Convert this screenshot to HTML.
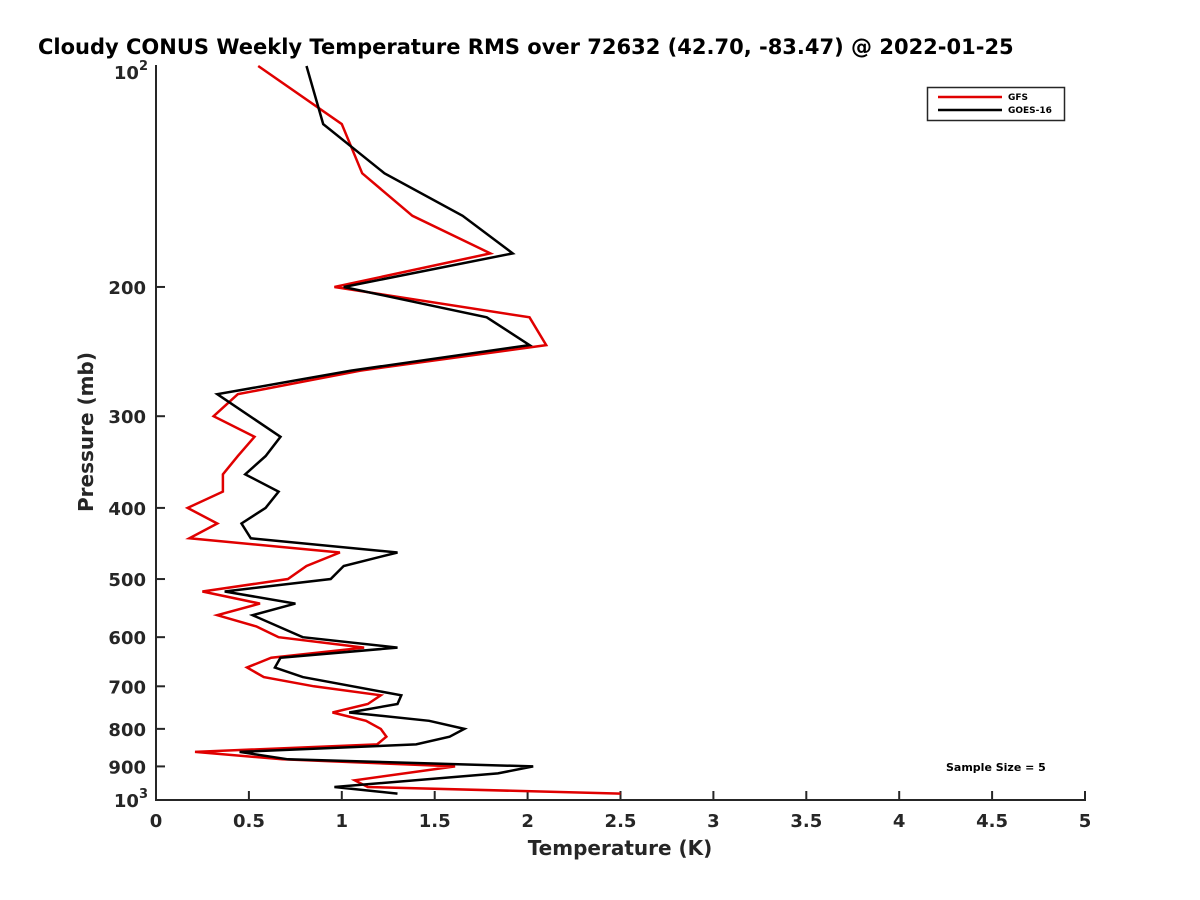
<!DOCTYPE html>
<html><head><meta charset="utf-8"><style>
body{margin:0;background:#fff}
svg{display:block;font-family:"DejaVu Sans","Liberation Sans",sans-serif}
</style></head><body>
<svg id="chart" width="1200" height="900" viewBox="0 0 1200 900">
<rect width="1200" height="900" fill="#fff"/>
<text x="38" y="54" font-size="21" font-weight="bold" fill="#000">Cloudy CONUS Weekly Temperature RMS over 72632 (42.70, -83.47) @ 2022-01-25</text>
<g id="ticks"></g>
<g id="series"></g>
<line x1="156" y1="65" x2="156" y2="800" stroke="#262626" stroke-width="2"/>
<line x1="155" y1="800" x2="1086" y2="800" stroke="#262626" stroke-width="2"/>
<text x="620" y="855" font-size="20" font-weight="bold" fill="#262626" text-anchor="middle">Temperature (K)</text>
<text transform="translate(93,432) rotate(-90)" font-size="20" font-weight="bold" fill="#262626" text-anchor="middle">Pressure (mb)</text>
<g>
<rect x="927.5" y="87.5" width="137" height="33" fill="#fff" stroke="#262626" stroke-width="1.5"/>
<line x1="938" y1="97" x2="1002" y2="97" stroke="#e00000" stroke-width="2.5"/>
<text x="1008" y="100" font-size="9" font-weight="bold" fill="#000">GFS</text>
<line x1="938" y1="110" x2="1002" y2="110" stroke="#000" stroke-width="2.5"/>
<text x="1008" y="113" font-size="9" font-weight="bold" fill="#000">GOES-16</text>
</g>
<text x="946" y="771" font-size="11" font-weight="bold" fill="#000">Sample Size = 5</text>
</svg>
<script>
const xTicks=[0,0.5,1,1.5,2,2.5,3,3.5,4,4.5,5];
const xTickLabels=["0","0.5","1","1.5","2","2.5","3","3.5","4","4.5","5"];
const yTicks=[200,300,400,500,600,700,800,900];
const gfsP=[100,120,140,160,180,200,220,240,260,280,300,320,340,360,380,400,420,440,460,480,500,520,540,560,580,600,620,640,660,680,700,720,740,760,780,800,820,840,860,880,900,940,960,980];
const gfsT=[0.55,1.00,1.11,1.38,1.80,0.96,2.01,2.10,1.10,0.44,0.31,0.53,0.44,0.36,0.36,0.17,0.33,0.18,0.99,0.81,0.71,0.25,0.56,0.33,0.54,0.66,1.12,0.62,0.49,0.58,0.85,1.21,1.14,0.95,1.13,1.21,1.24,1.19,0.21,0.68,1.61,1.07,1.14,2.50];
const goesP=[100,120,140,160,180,200,220,240,260,280,320,340,360,380,400,420,440,460,480,500,520,540,560,600,620,640,660,680,720,740,760,780,800,820,840,860,880,900,920,960,980];
const goesT=[0.81,0.90,1.23,1.65,1.92,1.01,1.78,2.01,1.05,0.33,0.67,0.59,0.48,0.66,0.59,0.46,0.51,1.30,1.01,0.94,0.37,0.75,0.52,0.79,1.30,0.67,0.64,0.79,1.32,1.30,1.04,1.47,1.66,1.58,1.40,0.45,0.71,2.03,1.84,0.96,1.30];
const NS="http://www.w3.org/2000/svg";
const X0=156,X1=1085,Y0=66,Y1=800;
function xs(t){return X0+(t/5)*(X1-X0);}
function ys(p){return Y0+(Math.log10(p)-2)*(Y1-Y0);}
const tg=document.getElementById('ticks');
function mk(tag,attrs,parent){const e=document.createElementNS(NS,tag);for(const k in attrs)e.setAttribute(k,attrs[k]);parent.appendChild(e);return e;}
xTicks.forEach((t,i)=>{
  const l=mk('line',{x1:xs(t),x2:xs(t),y1:Y1,y2:Y1-9,stroke:'#262626','stroke-width':2},tg);
  
  
  const tx=mk('text',{x:xs(t),y:Y1+27,'font-size':18,'font-weight':'bold',fill:'#262626','text-anchor':'middle'},tg);
  tx.textContent=xTickLabels[i];
  
  
});
yTicks.forEach(p=>{
  const l=mk('line',{x1:X0,x2:X0+9,y1:ys(p),y2:ys(p),stroke:'#262626','stroke-width':2},tg);
  
  
  const tx=mk('text',{x:X0-10,y:ys(p)+7,'font-size':18,'font-weight':'bold',fill:'#262626','text-anchor':'end'},tg);
  tx.textContent=String(p);
  
  
});
[[100,'2'],[1000,'3']].forEach(([p,e])=>{
  const tx=mk('text',{x:X0-8,y:ys(p)+(p===100?13:7),'font-size':18,'font-weight':'bold',fill:'#262626','text-anchor':'end'},tg);
  tx.innerHTML='10<tspan dy="-9" font-size="13">'+e+'</tspan>';
  
  
});
const sg=document.getElementById('series');
function line(P,T,color,name){
  const d=P.map((p,i)=>(i?'L':'M')+xs(T[i]).toFixed(1)+','+ys(p).toFixed(1)).join(' ');
  const path=mk('path',{d:d,fill:'none',stroke:color,'stroke-width':2.5,'stroke-linejoin':'miter'},sg);
  
  
}
line(gfsP,gfsT,'#e00000','gfs-line');
line(goesP,goesT,'#000000','goes16-line');
</script>
</body></html>
